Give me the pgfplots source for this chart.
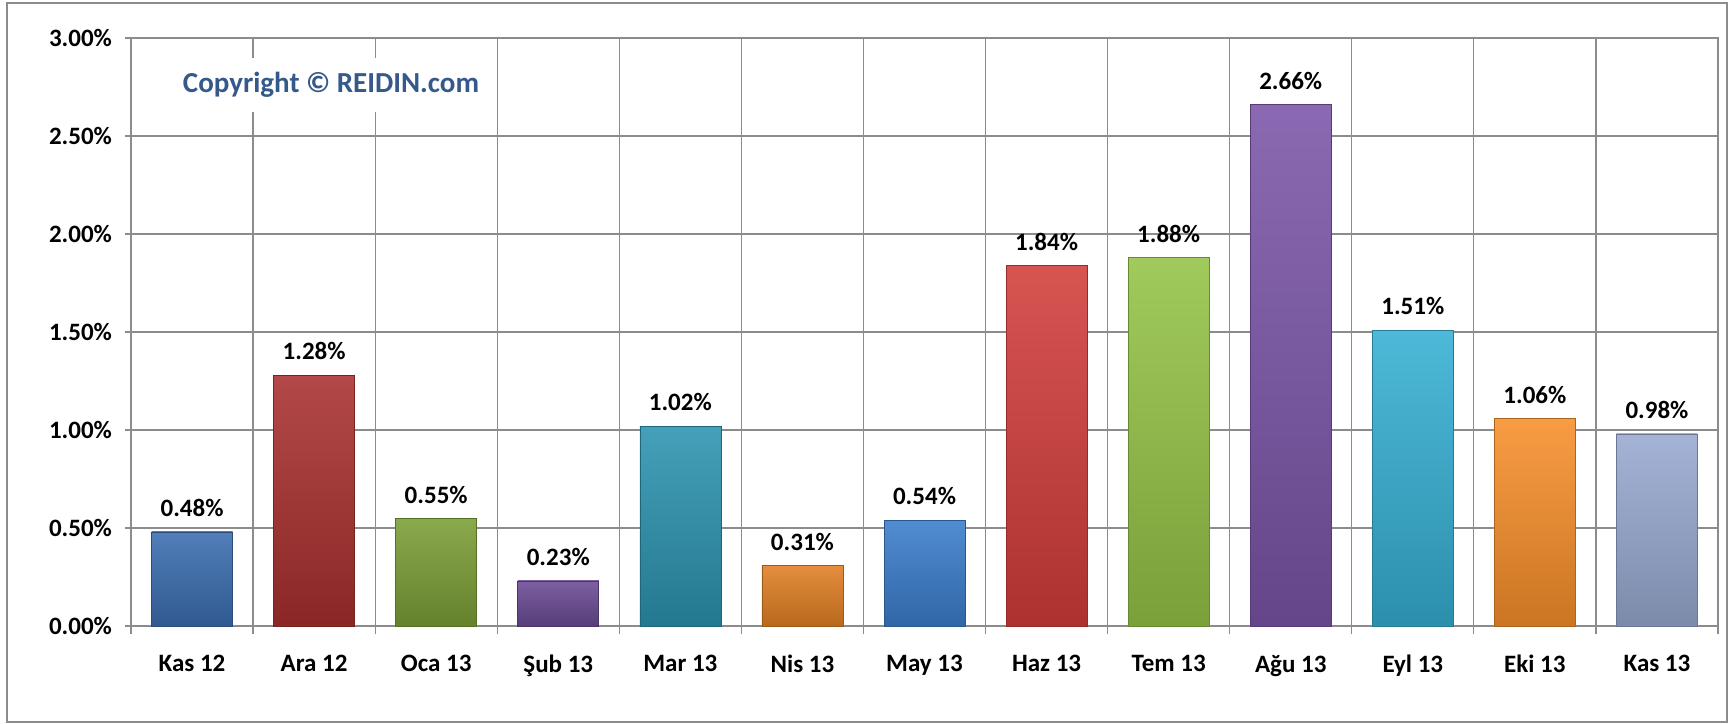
\documentclass[border=0pt]{standalone}
\usepackage{fontspec}
\setmainfont{Carlito}
\usepackage{pgfplots}
\pgfplotsset{compat=1.18}

\definecolor{gridgray}{HTML}{8C8C8C}
\definecolor{copyblue}{HTML}{35598A}
\definecolor{cA}{HTML}{3A6DAF}
\definecolor{cB}{HTML}{A8302F}
\definecolor{cC}{HTML}{7A9E35}
\definecolor{cD}{HTML}{6A4A94}
\definecolor{cE}{HTML}{2B93AF}
\definecolor{cF}{HTML}{E17F23}
\definecolor{cG}{HTML}{3A7DCB}
\definecolor{cH}{HTML}{D23D3A}
\definecolor{cI}{HTML}{94C346}
\definecolor{cJ}{HTML}{7B55A8}
\definecolor{cK}{HTML}{35AFD2}
\definecolor{cL}{HTML}{F78F2A}
\definecolor{cM}{HTML}{98A9D0}

\pgfplotsset{
  bevel/.style={draw=#1!70!black, line width=0.3pt,
    top color=#1!88!white, bottom color=#1!82!black}
}

\begin{document}
\begin{tikzpicture}
  \useasboundingbox (0,0) rectangle (866.5pt,361.5pt);
  \draw[gridgray, line width=0.6pt] (3.5pt,0.5pt) rectangle (863.5pt,360pt);
  \begin{axis}[
    at={(65.5pt,48.5pt)}, anchor=south west,
    scale only axis,
    width=793.5pt, height=294pt,
    ybar, bar width=40.5pt, bar shift=0pt,
    xmin=-0.5, xmax=12.5,
    ymin=0, ymax=3,
    xtick={0,...,12},
    xticklabels={Kas 12, Ara 12, Oca 13, Şub 13, Mar 13, Nis 13, May 13, Haz 13, Tem 13, Ağu 13, Eyl 13, Eki 13, Kas 13},
    minor xtick={-0.5,0.5,...,12.5},
    ytick={0,0.5,...,3},
    major x tick style={draw=none},
    minor x tick style={gridgray, line width=0.6pt},
    y tick style={gridgray, line width=0.6pt},
    tickpos=left,
    tick align=outside,
    minor tick length=4pt,
    major tick length=3pt,
    xminorgrids=true, ymajorgrids=true,
    grid style={gridgray, line width=0.6pt},
    axis line style={gridgray, line width=0.6pt},
    /pgf/number format/assume math mode=true,
    yticklabel={\pgfmathprintnumber[fixed,precision=2,zerofill]{\tick}\%},
    ticklabel style={font=\bfseries\fontsize{12.5}{14}\selectfont, text=black},
    xticklabel style={yshift=-8pt},
    yticklabel style={xshift=-3pt},
    nodes near coords={\pgfmathprintnumber[fixed,precision=2,zerofill]{\pgfplotspointmeta}\%},
    nodes near coords style={font=\bfseries\fontsize{12.5}{14}\selectfont, text=black, yshift=4pt},
  ]
    \addplot[bevel=cA] coordinates {(0,0.48)};
    \addplot[bevel=cB] coordinates {(1,1.28)};
    \addplot[bevel=cC] coordinates {(2,0.55)};
    \addplot[bevel=cD] coordinates {(3,0.23)};
    \addplot[bevel=cE] coordinates {(4,1.02)};
    \addplot[bevel=cF] coordinates {(5,0.31)};
    \addplot[bevel=cG] coordinates {(6,0.54)};
    \addplot[bevel=cH] coordinates {(7,1.84)};
    \addplot[bevel=cI] coordinates {(8,1.88)};
    \addplot[bevel=cJ] coordinates {(9,2.66)};
    \addplot[bevel=cK] coordinates {(10,1.51)};
    \addplot[bevel=cL] coordinates {(11,1.06)};
    \addplot[bevel=cM] coordinates {(12,0.98)};
  \end{axis}
  \node[fill=white, inner xsep=8pt, inner ysep=7pt, text=copyblue,
        font=\bfseries\fontsize{14.5}{17}\selectfont] at (165.5pt,319pt)
        {Copyright © REIDIN.com};
\end{tikzpicture}
\end{document}
